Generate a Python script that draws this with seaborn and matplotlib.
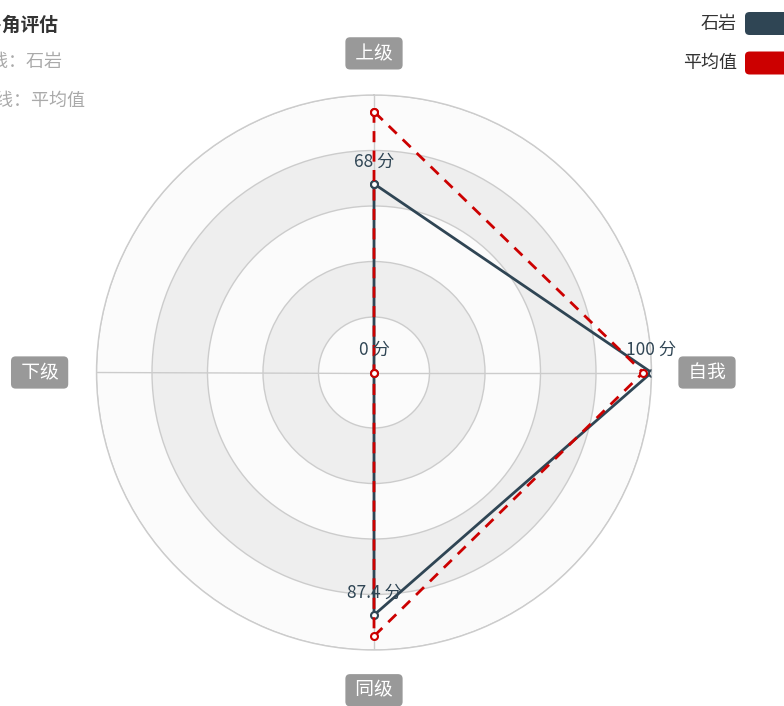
import numpy as np
import pandas as pd
import matplotlib
matplotlib.use("Agg")
import matplotlib.pyplot as plt
from matplotlib.patches import FancyBboxPatch
import seaborn as sns

# data
categories = ["上级", "下级", "同级", "自我"]
shiyan = [68, 0, 87.4, 100]
average = [94, 0, 95, 97]
series_names = ["石岩", "平均值"]
max_value = 100

sns.set_theme(style="white")
plt.rcParams["font.family"] = ["Noto Sans CJK SC", "DejaVu Sans"]

W, H = 784, 706
fig = plt.figure(figsize=(W / 100, H / 100), dpi=100)
cx, cy, R = 374, 372.5, 277.5
ax = fig.add_axes([(cx - R) / W, (H - cy - R) / H, 2 * R / W, 2 * R / H],
                  projection="polar")
ax.set_theta_offset(np.pi / 2)
ax.set_ylim(0, max_value)
ax.set_facecolor("white")

# split areas
splits = np.linspace(0, max_value, 6)
for i in range(5):
    ax.bar(0, splits[i + 1] - splits[i], width=2 * np.pi, bottom=splits[i],
           color="#fbfbfb" if i % 2 == 0 else "#eeeeee", edgecolor="none",
           align="edge", zorder=0)

ax.set_rgrids(splits[1:], labels=[])
ax.set_thetagrids([0, 90, 180, 270], labels=[])
ax.grid(True, color="#cccccc", linewidth=1)
ax.spines["polar"].set_color("#cccccc")
ax.spines["polar"].set_linewidth(1)

theta = np.linspace(0, 2 * np.pi, len(categories), endpoint=False)
theta_closed = np.append(theta, 2 * np.pi)
frames = []
for name, vals in zip(series_names, [shiyan, average]):
    frames.append(pd.DataFrame({"theta": theta_closed,
                                "value": list(vals) + [vals[0]],
                                "系列": name}))
df = pd.concat(frames, ignore_index=True)

colors = {"石岩": "#2f4554", "平均值": "#cc0000"}
sns.lineplot(data=df, x="theta", y="value", hue="系列", style="系列",
             palette=colors, dashes={"石岩": "", "平均值": (4, 3)},
             markers={"石岩": "o", "平均值": "o"}, sort=False, estimator=None,
             linewidth=2, markersize=5, legend=False, ax=ax, zorder=3)
for line in ax.lines:
    line.set_markerfacecolor("white")
    line.set_markeredgecolor(line.get_color())
    line.set_markeredgewidth(1.5)
ax.set_xlabel("")
ax.set_ylabel("")
ax.set_ylim(0, max_value)

# value labels for 石岩
for t, v in zip(theta, shiyan):
    ax.annotate(f"{v:g} 分", xy=(t, v), xytext=(0, 16), textcoords="offset points",
                ha="center", va="center", fontsize=12.5, color="#2f4554",
                zorder=5)

# axis names
name_r = {"上级": 115, "下级": 120.5, "同级": 114.5, "自我": 120}
for t, c in zip(theta, categories):
    ax.text(t, name_r[c], f" {c} ", ha="center", va="center", fontsize=13.5,
            color="white", clip_on=False,
            bbox=dict(boxstyle="round,pad=0.3,rounding_size=0.25",
                      fc="#999999", ec="none"))

# title (cut off at left edge like the reference)
fig.text(58 / W, 1 - 25 / H, "多角评估", ha="right", va="center",
         fontsize=13.5, fontweight="bold", color="#333333")
fig.text(63 / W, 1 - 62 / H, "实线：石岩", ha="right", va="center",
         fontsize=13, color="#aaaaaa")
fig.text(85 / W, 1 - 101 / H, "虚线：平均值", ha="right", va="center",
         fontsize=13, color="#aaaaaa")

# legend (cut off at right edge)
for i, name in enumerate(series_names):
    yc = 23.5 + 39.5 * i
    fig.text(737 / W, 1 - yc / H, name, ha="right", va="center",
             fontsize=13, color="#333333")
    fig.patches.append(FancyBboxPatch(
        (745 / W, 1 - (yc + 11.5) / H), 60 / W, 23 / H,
        boxstyle="round,pad=0,rounding_size=0.006", transform=fig.transFigure,
        fc=colors[name], ec="none"))

fig.savefig("out.png", dpi=100)
